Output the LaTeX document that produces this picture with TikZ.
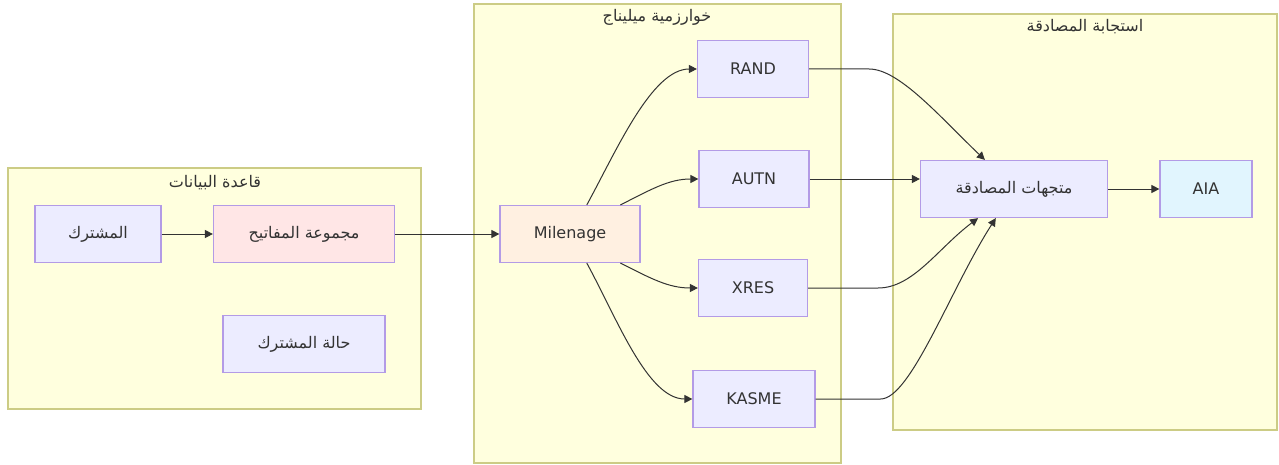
\documentclass[tikz,border=0pt]{standalone}
\usepackage{fontspec}
\setmainfont{DejaVu Sans}
\newfontfamily\arabicfont[Script=Arabic]{DejaVu Sans}
\TeXXeTstate=1
\usepackage{tikz}
\usetikzlibrary{arrows.meta}
\definecolor{Ink}{HTML}{333333}
\definecolor{Lemon}{HTML}{FFFFDE}
\definecolor{Olive}{HTML}{AAAA33}
\definecolor{Lavender}{HTML}{9370DB}
\definecolor{Periwinkle}{HTML}{ECECFF}
\definecolor{Blush}{HTML}{FFE6E6}
\definecolor{Peach}{HTML}{FFF0E1}
\definecolor{Ice}{HTML}{E1F5FE}
\newcommand{\artext}[1]{{\arabicfont\beginR #1\endR}}

\begin{document}
\begin{tikzpicture}[x=0.5pt,y=-0.5pt,font=\fontsize{8}{10}\selectfont,text=Ink,
  box/.style={draw=Lavender!70,fill=Periwinkle,line width=0.6pt,minimum height=28.5pt,inner sep=0pt},
  group/.style={draw=Olive!60,fill=Lemon,line width=0.6pt},
  link/.style={draw=Ink,line width=0.5pt,-{Triangle[length=4pt,width=4pt]}}]
  \useasboundingbox (0,0) rectangle (1279,465);
  % clusters
  \draw[group] (8,168) rectangle (421,409);
  \draw[group] (474,4) rectangle (841,463);
  \draw[group] (893,14) rectangle (1277,430);
  \node (dbtitle) at (215,183) {\artext{قاعدة البيانات}};
  \node (miltitle) at (657,17) {\artext{خوارزمية ميليناج}};
  \node (restitle) at (1085,27) {\artext{استجابة المصادقة}};
  % nodes
  \node[box,minimum width=63pt] (sub) at (98,234) {\artext{المشترك}};
  \node[box,fill=Blush,minimum width=90.5pt] (keys) at (304,234) {\artext{مجموعة المفاتيح}};
  \node[box,minimum width=81pt] (state) at (304,344) {\artext{حالة المشترك}};
  \node[box,fill=Peach,minimum width=70pt] (mil) at (570,234) {Milenage};
  \node[box,minimum width=55.5pt] (rand) at (753,69) {RAND};
  \node[box,minimum width=55pt] (autn) at (754,179) {AUTN};
  \node[box,minimum width=54.5pt] (xres) at (753,288) {XRES};
  \node[box,minimum width=61pt] (kasme) at (754,399) {KASME};
  \node[box,minimum width=93.5pt] (vec) at (1014,189) {\artext{متجهات المصادقة}};
  \node[box,fill=Ice,minimum width=46pt] (aia) at (1206,189) {AIA};
  % links
  \draw[link] (sub) -- (keys);
  \draw[link] (keys) -- (mil);
  \draw[link] (mil.60) .. controls +(30,-55) and +(-45,0) .. (rand.west);
  \draw[link] (mil.30) .. controls +(30,-15) and +(-30,0) .. (autn.west);
  \draw[link] (mil.-30) .. controls +(30,15) and +(-30,0) .. (xres.west);
  \draw[link] (mil.-60) .. controls +(30,55) and +(-45,0) .. (kasme.west);
  \draw[link] (rand.east) -- ++(60,0) .. controls +(30,0) and +(-45,-43) .. (vec.135);
  \draw[link] (autn.east) -- (autn.east -| vec.west);
  \draw[link] (xres.east) -- ++(70,0) .. controls +(35,0) and +(-40,30) .. (vec.-141);
  \draw[link] (kasme.east) -- ++(65,0) .. controls +(30,0) and +(-45,70) .. (vec.-122);
  \draw[link] (vec) -- (aia);
\end{tikzpicture}
\end{document}
